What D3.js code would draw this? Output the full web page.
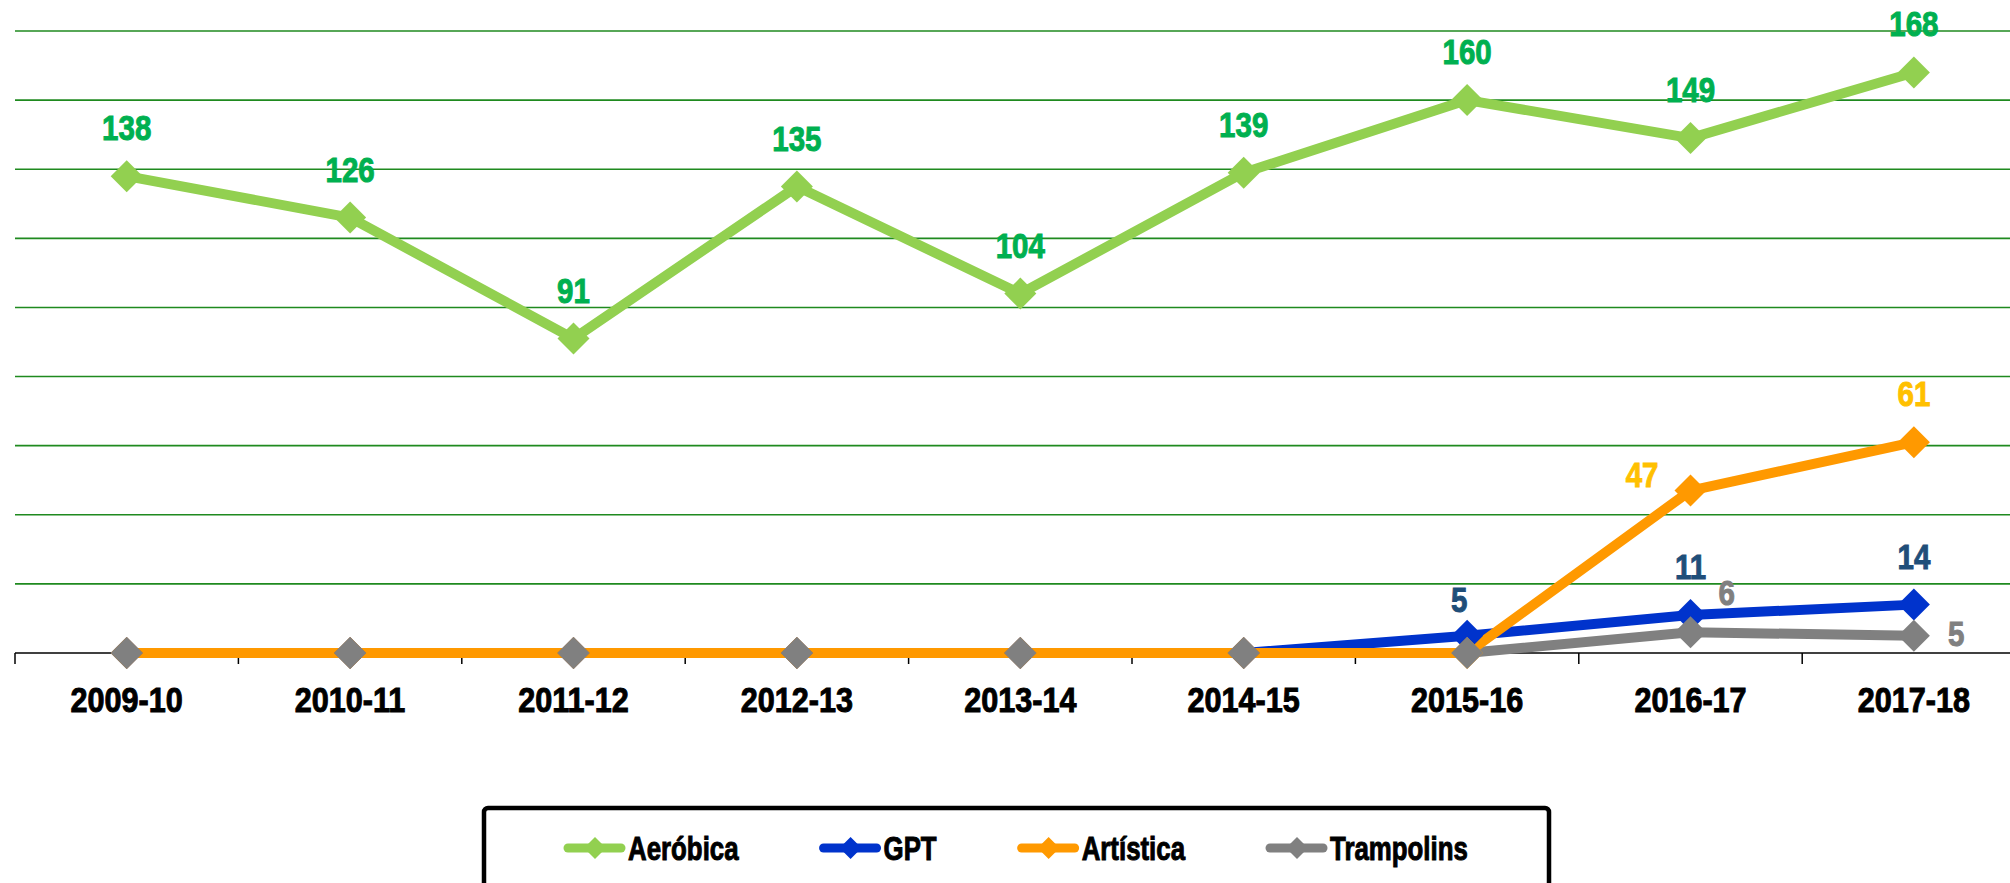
<!DOCTYPE html>
<html>
<head>
<meta charset="utf-8">
<script src="https://cdn.jsdelivr.net/npm/d3@7"></script>
<style>
  html, body { margin: 0; padding: 0; background: #fff; }
  text { font-family: "Liberation Sans", Arial, sans-serif; font-weight: bold; }
</style>
</head>
<body>
<svg id="chart" width="2010" height="883"></svg>
<script>
'use strict';

var seasons = ['2009-10', '2010-11', '2011-12', '2012-13', '2013-14', '2014-15', '2015-16', '2016-17', '2017-18'];
var seriesNames = ['Aeróbica', 'GPT', 'Artística', 'Trampolins'];
var aerobica = [138, 126, 91, 135, 104, 139, 160, 149, 168];
var gpt = [0, 0, 0, 0, 0, 0, 5, 11, 14];
var artistica = [0, 0, 0, 0, 0, 0, 0, 47, 61];
var trampolins = [0, 0, 0, 0, 0, 0, 0, 6, 5];
var yTicks = [20, 40, 60, 80, 100, 120, 140, 160, 180];

var lineColors = ['#92D050', '#0033CC', '#FF9900', '#808080'];
var labelColors = ['#00B050', '#1F4E79', '#FFC000', '#808080'];

var svg = d3.select('#chart');
var width = 2010;

var x = d3.scaleBand()
  .domain(seasons)
  .range([15, 15 + 223.4 * seasons.length]);

var y = d3.scaleLinear()
  .domain([0, 180])
  .range([653, 31]);

var series = seriesNames.map(function(name, i) {
  return {
    name: name,
    idx: i,
    values: [aerobica, gpt, artistica, trampolins][i]
  };
});

// condensed heavy look: squeeze a bold sans horizontally, thicken with a stroke
function condensedText(parent, tx, ty, sx, size, anchor, color, str) {
  return parent.append('text')
    .attr('transform', 'translate(' + tx + ',' + ty + ') scale(' + sx + ',1)')
    .attr('text-anchor', anchor)
    .attr('font-size', size)
    .attr('fill', color)
    .attr('stroke', color)
    .attr('stroke-width', 1)
    .text(str);
}

// horizontal gridlines
svg.append('g')
  .selectAll('line')
  .data(yTicks)
  .enter().append('line')
  .attr('x1', x.range()[0])
  .attr('x2', width)
  .attr('y1', function(d) { return y(d); })
  .attr('y2', function(d) { return y(d); })
  .attr('stroke', '#1f8a1f')
  .attr('stroke-width', 1.6);

// x axis line + ticks at band edges
var axis = svg.append('g');
axis.append('line')
  .attr('x1', x.range()[0])
  .attr('x2', width)
  .attr('y1', y(0))
  .attr('y2', y(0))
  .attr('stroke', '#000')
  .attr('stroke-width', 1.5);

axis.selectAll('line.tick')
  .data(seasons)
  .enter().append('line')
  .attr('class', 'tick')
  .attr('x1', function(d) { return x(d); })
  .attr('x2', function(d) { return x(d); })
  .attr('y1', y(0))
  .attr('y2', y(0) + 11)
  .attr('stroke', '#000')
  .attr('stroke-width', 1.5);

seasons.forEach(function(d) {
  condensedText(axis, x(d) + x.bandwidth() / 2, 712, 0.85, 36, 'middle', '#000', d);
});

var line = d3.line()
  .x(function(d, i) { return x(seasons[i]) + x.bandwidth() / 2; })
  .y(function(d) { return y(d); });

function diamond(s, cx, cy, r, color) {
  s.append('path')
    .attr('d', 'M' + cx + ',' + (cy - r) + 'L' + (cx + r) + ',' + cy +
      'L' + cx + ',' + (cy + r) + 'L' + (cx - r) + ',' + cy + 'Z')
    .attr('fill', color);
}

// lines (orange drawn over grey along the baseline, like the original)
var lineOrder = [0, 1, 3, 2];
lineOrder.forEach(function(i) {
  svg.append('path')
    .datum(series[i].values)
    .attr('d', line)
    .attr('fill', 'none')
    .attr('stroke', lineColors[i])
    .attr('stroke-width', 10)
    .attr('stroke-linejoin', 'round');
});

// markers
series.forEach(function(s) {
  var g = svg.append('g');
  s.values.forEach(function(v, i) {
    var cx = x(seasons[i]) + x.bandwidth() / 2;
    diamond(g, cx, y(v), 16, lineColors[s.idx]);
  });
});

// data labels (zeros are not labelled)
var labelSide = {
  'GPT': { 6: 'nearAbove' },
  'Artística': { 7: 'left' },
  'Trampolins': { 7: 'upperRight', 8: 'right' }
};

series.forEach(function(s) {
  var g = svg.append('g');
  s.values.forEach(function(v, i) {
    if (v === 0) return;
    var cx = x(seasons[i]) + x.bandwidth() / 2;
    var cy = y(v);
    var side = (labelSide[s.name] && labelSide[s.name][i]) || 'above';
    var col = labelColors[s.idx];
    if (side === 'above') {
      condensedText(g, cx, cy - 36, 0.82, 36, 'middle', col, v);
    } else if (side === 'nearAbove') {
      condensedText(g, cx - 8, cy - 24, 0.82, 36, 'middle', col, v);
    } else if (side === 'left') {
      condensedText(g, cx - 32, cy - 4, 0.82, 36, 'end', col, v);
    } else if (side === 'upperRight') {
      condensedText(g, cx + 28, cy - 27, 0.82, 36, 'start', col, v);
    } else {
      condensedText(g, cx + 34, cy + 10, 0.82, 36, 'start', col, v);
    }
  });
});

// legend
var legend = svg.append('g');
legend.append('rect')
  .attr('x', 484)
  .attr('y', 808)
  .attr('width', 1065)
  .attr('height', 120)
  .attr('rx', 4)
  .attr('fill', '#fff')
  .attr('stroke', '#000')
  .attr('stroke-width', 4.5);

var lx = 565;
var ly = 848;
series.forEach(function(s) {
  var item = legend.append('g');
  item.append('line')
    .attr('x1', lx + 3)
    .attr('x2', lx + 56)
    .attr('y1', ly)
    .attr('y2', ly)
    .attr('stroke', lineColors[s.idx])
    .attr('stroke-width', 9)
    .attr('stroke-linecap', 'round');
  diamond(item, lx + 30, ly, 11, lineColors[s.idx]);
  var t = condensedText(item, lx + 63, ly + 12, 0.76, 34, 'start', '#000', s.name);
  lx += 63 + t.node().getComputedTextLength() * 0.76 + 82;
});
</script>
</body>
</html>
